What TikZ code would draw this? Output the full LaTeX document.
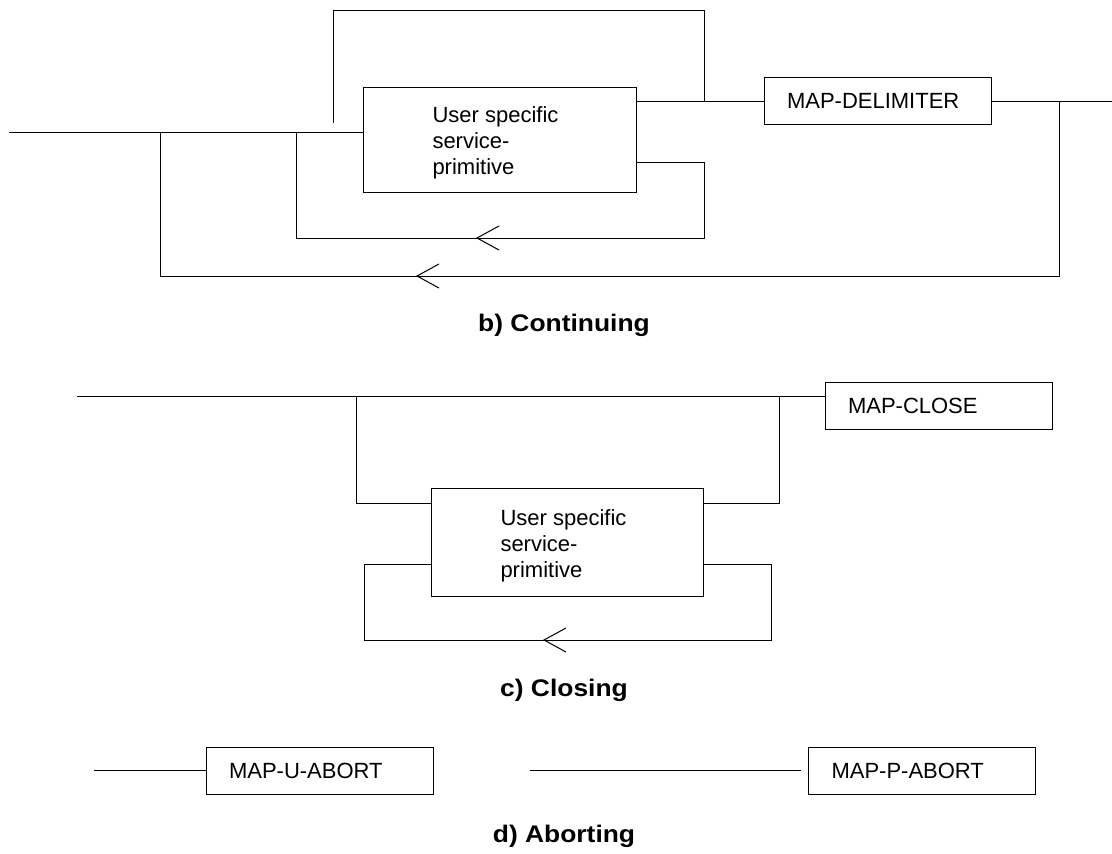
\documentclass[tikz,border=0pt]{standalone}
\usepackage{fontspec}
\setmainfont{Liberation Sans}
\newfontfamily\wideheadfont[FakeStretch=1.1]{Liberation Sans}
\begin{document}
\begin{tikzpicture}[x=1pt,y=-1pt,line width=1pt,
  box/.style={draw,rectangle,inner sep=0pt},
  mapbox/.style={draw,rectangle,minimum height=47pt,text width=181pt,inner xsep=23pt,inner ysep=0pt,align=left,font=\fontsize{22}{26}\selectfont},
  usptext/.style={anchor=north west,inner sep=0pt,align=left,font=\fontsize{22}{26}\selectfont},
  title/.style={anchor=base,font=\fontsize{24}{28}\wideheadfont\bfseries,inner sep=0pt}]
\useasboundingbox (0,0) rectangle (1112,854);

% ---------- b) Continuing ----------
\node[box,minimum width=273pt,minimum height=105pt] (usp1) at (499.5,139.5) {};
\node[usptext] (t1) at (432,106) {User specific\\service-\\primitive};
\node[mapbox] (md) at (877.5,101) {MAP-DELIMITER};
\coordinate (b0) at (9,132);
\coordinate (bend) at (1112,101);
\coordinate (tl) at (333,123);
\coordinate (tr) at (704,10);
\coordinate (ob) at (160,276);
\coordinate (obr) at (1059,276);
\coordinate (ib) at (296,238);
\coordinate (ibr) at (704,238);
\coordinate (ia) at (704,162);
\draw (b0) -- (b0 -| usp1.west);
\draw (tl) -- (tl |- tr) -- (tr) -- (tr |- md.west);
\draw (usp1.east |- md.west) -- (md.west);
\draw (md.east) -- (bend);
\draw (ob |- b0) -- (ob) -- (obr) -- (obr |- md.east);
\draw (ib |- b0) -- (ib) -- (ibr) -- (ia) -- (ia -| usp1.east);
\draw (499,226) -- (477,238) -- (499,250);
\draw (439,264) -- (417,276) -- (439,288);
\node[title] (tb) at (564,331) {b) Continuing};

% ---------- c) Closing ----------
\node[box,minimum width=272pt,minimum height=108pt] (usp2) at (567,542) {};
\node[usptext] (t2) at (500,509) {User specific\\service-\\primitive};
\node[mapbox] (mc) at (938.5,405.5) {MAP-CLOSE};
\coordinate (c0) at (77,396);
\coordinate (cl) at (356,503);
\coordinate (cr) at (779,503);
\coordinate (cll) at (364,640);
\coordinate (clr) at (771,564);
\draw (c0) -- (c0 -| mc.west);
\draw (cl |- c0) -- (cl) -- (cl -| usp2.west);
\draw (cr |- c0) -- (cr) -- (cr -| usp2.east);
\draw (usp2.west |- clr) -- (cll |- clr) -- (cll) -- (clr |- cll) -- (clr) -- (usp2.east |- clr);
\draw (566,628) -- (544,640) -- (566,652);
\node[title] (tc) at (564,696) {c) Closing};

% ---------- d) Aborting ----------
\node[mapbox] (ua) at (319.5,770.5) {MAP-U-ABORT};
\node[mapbox] (pa) at (922,770.5) {MAP-P-ABORT};
\coordinate (d0) at (94,770.5);
\coordinate (d1) at (530,770.5);
\coordinate (d2) at (801,770.5);
\draw (d0) -- (ua.west);
\draw (d1) -- (d2);
\node[title] (td) at (564,842) {d) Aborting};
\end{tikzpicture}
\end{document}
